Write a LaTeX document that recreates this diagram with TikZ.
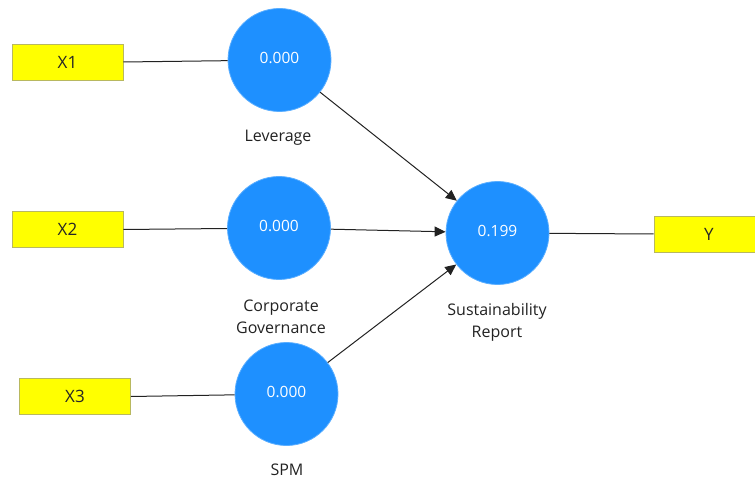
\documentclass[tikz,border=0pt]{standalone}
\usepackage{fontspec}
\setmainfont{Open Sans}
\usetikzlibrary{arrows.meta}
\definecolor{lvblue}{HTML}{1E90FF}
\definecolor{lvedge}{HTML}{5AAEFF}
\definecolor{mvyellow}{HTML}{FFFF00}
\definecolor{mvedge}{HTML}{B8B860}
\definecolor{lnk}{HTML}{222222}
\definecolor{lbl}{HTML}{222222}
\tikzset{
  latent/.style={circle, fill=lvblue, draw=lvedge, line width=0.8pt, minimum size=103pt, inner sep=0pt, text=white, font=\fontsize{15.5}{18}\selectfont},
  manifest/.style={rectangle, fill=mvyellow, draw=mvedge, line width=0.8pt, minimum width=111pt, minimum height=36pt, inner sep=0pt, text=black!85, font=\fontsize{17}{19}\selectfont},
  lvlabel/.style={align=center, text=lbl, font=\fontsize{16}{22}\selectfont},
  link/.style={draw=lnk, line width=1pt},
  path/.style={draw=lnk, line width=1pt, -{Triangle[length=11pt,width=10pt]}}
}
\begin{document}
\begin{tikzpicture}[x=1pt,y=-1pt]
\useasboundingbox (0,0) rectangle (755,481);
\node[manifest] (x1) at (67.5,62) {X1};
\node[manifest] (x2) at (67.5,229.5) {X2};
\node[manifest] (x3) at (75,396.5) {X3};
\node[manifest, minimum width=110pt] (y) at (709,234) {Y};

\node[latent] (lev) at (279.5,60) {\raisebox{4pt}{0.000}};
\node[latent] (cg) at (279,228) {\raisebox{4pt}{0.000}};
\node[latent] (spm) at (286.5,394) {\raisebox{4pt}{0.000}};
\node[latent] (sr) at (497.5,233) {\raisebox{4pt}{0.199}};

\node[lvlabel] (levl) at (278,138) {Leverage};
\node[lvlabel] (cgl) at (281,316.5) {Corporate\\Governance};
\node[lvlabel] (spml) at (287,470) {SPM};
\node[lvlabel] (srl) at (497,322) {Sustainability\\Report};

\draw[link] (x1.east) -- (lev);
\draw[link] (x2.east) -- (cg);
\draw[link] (x3.east) -- (spm);
\draw[link] (sr) -- (y.west);

\draw[path] (lev) -- (sr);
\draw[path] (cg) -- (sr);
\draw[path] (spm) -- (sr);
\end{tikzpicture}
\end{document}
